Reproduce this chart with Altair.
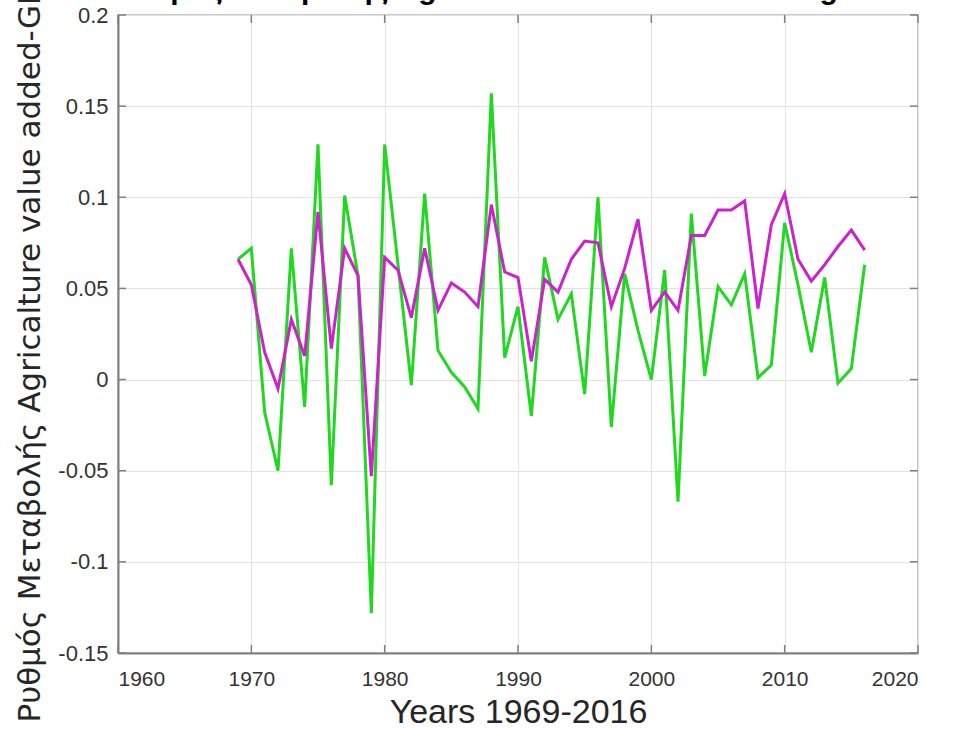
import altair as alt
import pandas as pd

years = [1969, 1970, 1971, 1972, 1973, 1974, 1975, 1976, 1977, 1978,
         1979, 1980, 1981, 1982, 1983, 1984, 1985, 1986, 1987, 1988,
         1989, 1990, 1991, 1992, 1993, 1994, 1995, 1996, 1997, 1998,
         1999, 2000, 2001, 2002, 2003, 2004, 2005, 2006, 2007, 2008,
         2009, 2010, 2011, 2012, 2013, 2014, 2015, 2016]

green_vals = [0.066, 0.072, -0.018, -0.050, 0.072, -0.015, 0.129, -0.058, 0.101, 0.057,
              -0.128, 0.129, 0.063, -0.003, 0.102, 0.016, 0.004, -0.004, -0.016, 0.157,
              0.012, 0.040, -0.020, 0.067, 0.033, 0.047, -0.008, 0.100, -0.026, 0.058,
              0.027, 0.000, 0.060, -0.067, 0.091, 0.002, 0.051, 0.041, 0.058, 0.001,
              0.008, 0.086, 0.052, 0.015, 0.056, -0.002, 0.006, 0.063]

magenta_vals = [0.066, 0.052, 0.015, -0.005, 0.033, 0.013, 0.092, 0.017, 0.072, 0.057,
                -0.053, 0.067, 0.060, 0.034, 0.072, 0.038, 0.053, 0.048, 0.040, 0.096,
                0.059, 0.056, 0.010, 0.055, 0.048, 0.066, 0.076, 0.075, 0.040, 0.061,
                0.088, 0.038, 0.048, 0.038, 0.079, 0.079, 0.093, 0.093, 0.098, 0.039,
                0.085, 0.102, 0.066, 0.054, 0.063, 0.073, 0.082, 0.071]

x_ticks = [1960, 1970, 1980, 1990, 2000, 2010, 2020]
y_ticks = [-0.15, -0.1, -0.05, 0, 0.05, 0.1, 0.15, 0.2]

x_title = "Years 1969-2016"
y_title = "Ρυθμός Μεταβολής Agricalture value added-GDP"
top_title = "Ρυθμός Μεταβολής Agricalture value added-GDP growth"

W, H = 800, 638
AXIS_COLOR = "#7f7f7f"
TICK_FONT = "Liberation Sans"

df_g = pd.DataFrame({"year": years, "value": green_vals})
df_m = pd.DataFrame({"year": years, "value": magenta_vals})
df_xt = pd.DataFrame({"year": x_ticks})
df_yt = pd.DataFrame({"value": y_ticks})

xscale = alt.Scale(domain=[1960, 2020], nice=False, zero=False)
yscale = alt.Scale(domain=[-0.15, 0.2], nice=False, zero=False)

x_axis = alt.Axis(
    values=x_ticks, format="d", title=x_title,
    grid=True, gridColor="#e2e2e2", gridWidth=1,
    domainColor=AXIS_COLOR, domainWidth=2, ticks=False,
    labelFont=TICK_FONT, labelFontSize=21, labelColor="#333333", labelPadding=15,
    titleFont=TICK_FONT, titleFontSize=34, titleFontWeight="normal", titleColor="#262626",
    titlePadding=6,
)
y_axis = alt.Axis(
    values=y_ticks, title=y_title,
    labelExpr="replace(format(datum.value, '~g'), '\u2212', '-')",
    grid=True, gridColor="#e2e2e2", gridWidth=1,
    domainColor=AXIS_COLOR, domainWidth=2, ticks=False,
    labelFont=TICK_FONT, labelFontSize=22, labelColor="#333333", labelPadding=10,
    titleFont="DejaVu Sans", titleFontSize=31, titleFontWeight="normal", titleColor="#262626",
    titleX=-72, titleY=327,
)

X = alt.X("year:Q", scale=xscale, axis=x_axis)
Y = alt.Y("value:Q", scale=yscale, axis=y_axis)

green_line = alt.Chart(df_g).mark_line(color="#1fd81f", strokeWidth=3).encode(x=X, y=Y)
magenta_line = alt.Chart(df_m).mark_line(color="#cc22cc", strokeWidth=3).encode(x=X, y=Y)

tick_style = dict(color=AXIS_COLOR, strokeWidth=1.5)
bottom_ticks = alt.Chart(df_xt).mark_rule(**tick_style).encode(
    x=X, y=alt.value(H), y2=alt.value(H - 8))
top_ticks = alt.Chart(df_xt).mark_rule(**tick_style).encode(
    x=X, y=alt.value(0), y2=alt.value(8))
left_ticks = alt.Chart(df_yt).mark_rule(**tick_style).encode(
    y=Y, x=alt.value(0), x2=alt.value(8))
right_ticks = alt.Chart(df_yt).mark_rule(**tick_style).encode(
    y=Y, x=alt.value(W), x2=alt.value(W - 8))

title_text = alt.Chart(pd.DataFrame({"t": [top_title]})).mark_text(
    font="Liberation Sans", fontSize=30, fontWeight="bold", color="#000000",
    align="center", baseline="alphabetic",
).encode(text="t:N", x=alt.value(W / 2), y=alt.value(-16))

chart = alt.layer(
    green_line, magenta_line, bottom_ticks, top_ticks, left_ticks, right_ticks, title_text
).properties(
    width=W, height=H,
    autosize=alt.AutoSizeParams(type="none"),
    padding={"left": 118, "top": 15, "right": 35, "bottom": 78},
    background="white",
).configure_view(
    stroke="#b8b8b8", strokeWidth=1.5,
)

chart.save("out.html", embed_options={"renderer": "svg", "actions": False})
